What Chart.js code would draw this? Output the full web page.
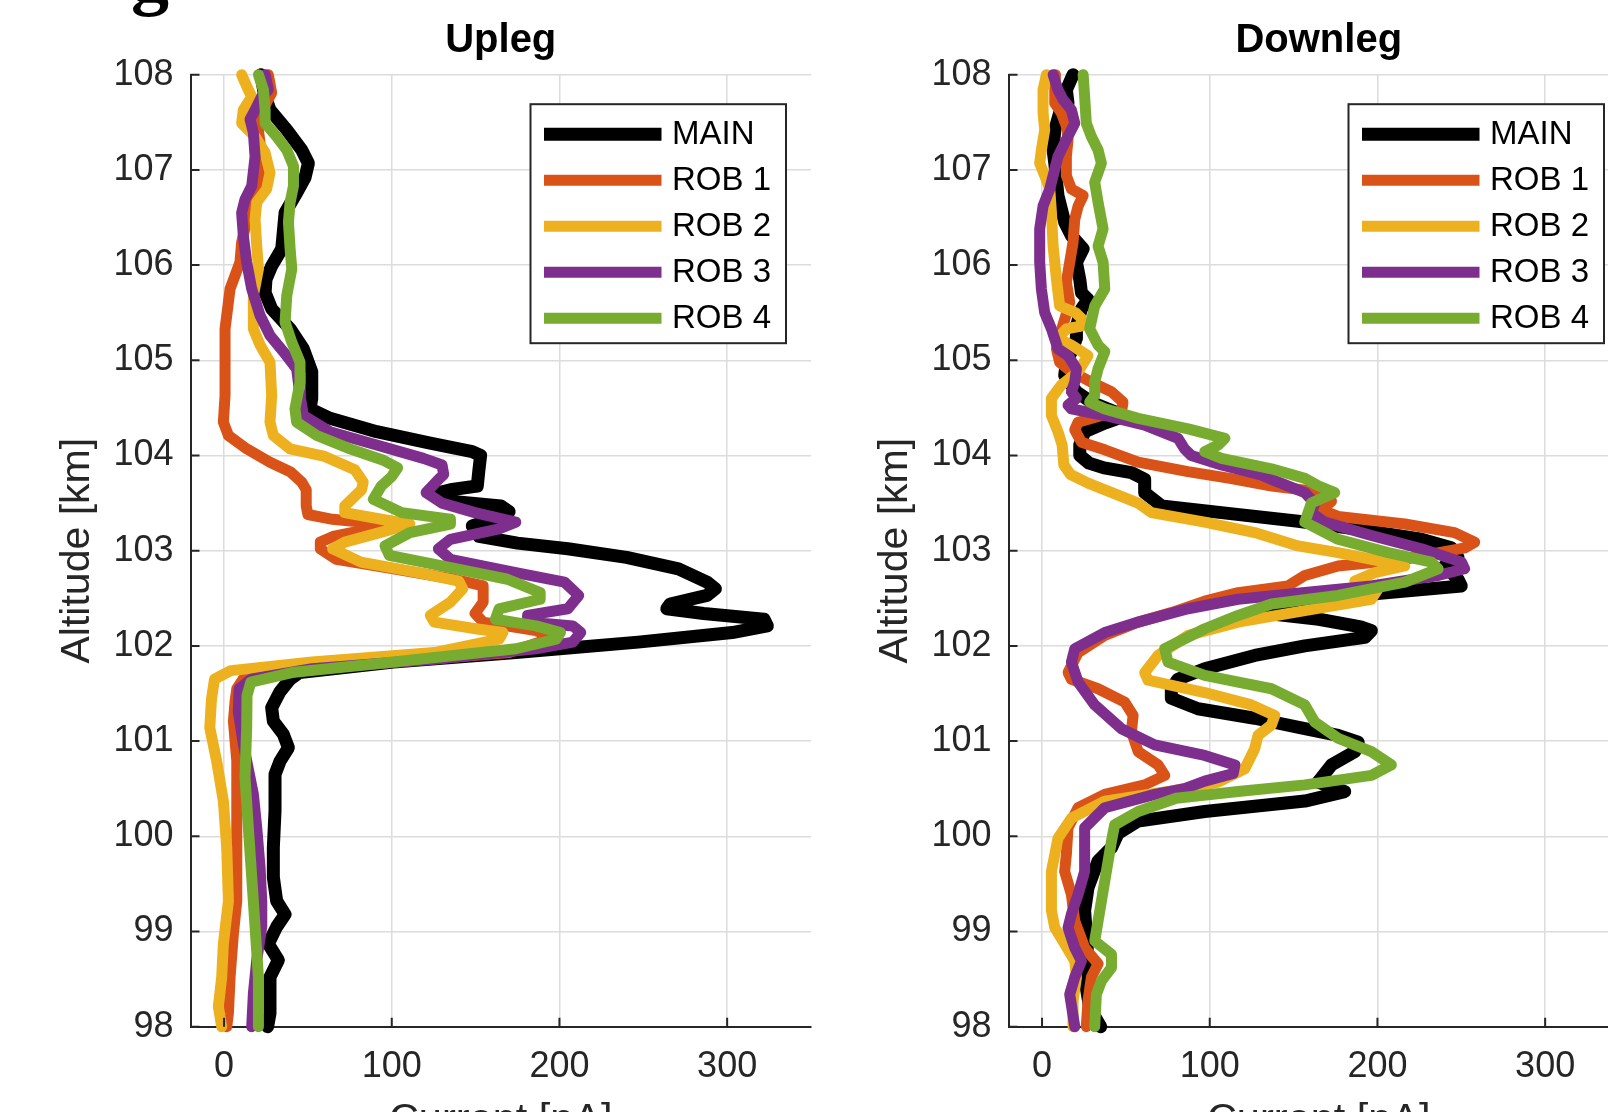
<!DOCTYPE html>
<html>
<head>
<meta charset="utf-8">
<script src="https://cdn.jsdelivr.net/npm/chart.js@4.4.1/dist/chart.umd.min.js"></script>
<style>
  html, body { margin: 0; padding: 0; background: #fff; }
  body { position: relative; width: 1608px; height: 1112px; overflow: hidden; }
  .panel { position: absolute; top: 0; }
  #up { left: 0; }
  #down { left: 818px; }
  #tag {
    position: absolute; left: 131px; top: -61px;
    font: bold 76px "Liberation Serif", serif; line-height: 72px; color: #000;
  }
</style>
</head>
<body>
<div id="tag">g</div>
<canvas id="up" class="panel" width="830" height="1150"></canvas>
<canvas id="down" class="panel" width="830" height="1150"></canvas>
<script>
// series names + axis ticks
const seriesNames = ['MAIN', 'ROB 1', 'ROB 2', 'ROB 3', 'ROB 4'];
const altTicks = [98, 99, 100, 101, 102, 103, 104, 105, 106, 107, 108];
const currentTicks = [0, 100, 200, 300];

// profiles: [altitude km, current nA]
// --- Upleg ---
const upMain = [[108.0, 22], [107.8, 24], [107.63, 27.4], [107.42, 37.4], [107.21, 46.3], [107.07, 50.3], [106.92, 48.3], [106.76, 43.3], [106.55, 36.4], [106.17, 34.4], [105.99, 28.4], [105.85, 25], [105.71, 24.5], [105.54, 28.4], [105.33, 39.4], [105.12, 47.3], [104.88, 52.3], [104.6, 52.3], [104.49, 51.3], [104.39, 63.2], [104.25, 91], [104.13, 122.9], [104.04, 148], [104.0, 153], [103.85, 152], [103.68, 151], [103.64, 135], [103.6, 126], [103.52, 135], [103.47, 165], [103.41, 170], [103.33, 160], [103.26, 148], [103.15, 152], [103.08, 175], [103.02, 205], [102.93, 240], [102.81, 271], [102.67, 288], [102.6, 293], [102.53, 288], [102.44, 266], [102.39, 264], [102.34, 286], [102.28, 322], [102.21, 324], [102.14, 303], [102.04, 247], [101.93, 174], [101.83, 101], [101.72, 45], [101.65, 39.4], [101.52, 33.4], [101.35, 28.4], [101.21, 29.4], [101.07, 35.4], [100.93, 38.4], [100.79, 33.4], [100.65, 30.4], [100.27, 30.4], [99.88, 29.4], [99.57, 29.4], [99.32, 31.4], [99.18, 36.4], [99.05, 31.4], [98.87, 26.4], [98.7, 32.4], [98.52, 27.4], [98.35, 27.4], [98.14, 27.4], [98.0, 26]];
const upRob1 = [[108.0, 26.4], [107.81, 28.4], [107.6, 22], [107.42, 20.5], [107.2, 22], [106.97, 22.5], [106.73, 19.5], [106.5, 14], [106.24, 10.5], [106.03, 9.5], [105.75, 3.6], [105.33, 0.6], [104.98, 0.6], [104.63, 0.6], [104.35, -0.4], [104.21, 2.6], [104.07, 13.5], [103.93, 27.4], [103.83, 39.4], [103.72, 46.3], [103.64, 49], [103.47, 49], [103.38, 50], [103.33, 64.7], [103.28, 94], [103.22, 85], [103.15, 65], [103.09, 57.4], [103.02, 57.4], [102.91, 67], [102.81, 101], [102.7, 137.5], [102.63, 154.5], [102.46, 154.5], [102.34, 149.7], [102.25, 154.5], [102.16, 186], [102.11, 195], [102.04, 188], [101.93, 170], [101.83, 101], [101.72, 28], [101.65, 11.3], [101.55, 7.6], [101.42, 6.6], [101.21, 5.6], [100.79, 7.6], [100.27, 7.6], [99.74, 7.6], [99.32, 7.6], [98.98, 5.6], [98.52, 3.6], [98.14, 2.6], [98.0, 1.6]];
const upRob2 = [[108.0, 10.5], [107.84, 14.5], [107.77, 16.5], [107.63, 11.5], [107.49, 10.5], [107.35, 18.5], [107.18, 24.5], [106.97, 27.4], [106.8, 25.4], [106.66, 19.5], [106.48, 18.5], [106.2, 19.5], [105.96, 20.5], [105.68, 17.5], [105.33, 17.5], [105.16, 21.5], [104.98, 27.4], [104.63, 28.4], [104.35, 27.4], [104.21, 29.4], [104.07, 39.4], [103.99, 60], [103.85, 78], [103.72, 83], [103.64, 82], [103.47, 72], [103.4, 72], [103.33, 93.8], [103.28, 110.8], [103.2, 95], [103.09, 72], [103.02, 64.7], [102.88, 81.7], [102.77, 115.7], [102.68, 140], [102.6, 142.3], [102.46, 135], [102.32, 123], [102.25, 125.4], [102.18, 150], [102.14, 166.3], [102.07, 164], [101.93, 125.4], [101.83, 52.5], [101.74, 4], [101.65, -5.7], [101.44, -7.5], [101.14, -8.5], [100.79, -4.4], [100.37, -0.4], [99.88, 1.6], [99.32, 2.6], [98.87, -0.4], [98.52, -1.4], [98.21, -3.4], [98.0, -1.4]];
const upRob3 = [[108.0, 24.5], [107.84, 26.4], [107.77, 22.5], [107.63, 18.5], [107.53, 15.5], [107.39, 17.5], [107.14, 18.5], [106.83, 16.5], [106.69, 12.5], [106.55, 10.5], [106.31, 11.5], [106.03, 13.5], [105.75, 16.5], [105.47, 21.5], [105.26, 27.4], [105.09, 35.4], [104.91, 43.3], [104.63, 45.3], [104.42, 47.3], [104.25, 63.2], [104.11, 91], [103.97, 118.9], [103.9, 130], [103.8, 131], [103.75, 128], [103.61, 120.5], [103.5, 130], [103.4, 149.6], [103.3, 174], [103.23, 164], [103.12, 135], [103.02, 127.8], [102.91, 135], [102.77, 174], [102.67, 203], [102.53, 211.5], [102.39, 205], [102.32, 181], [102.25, 181], [102.21, 208], [102.14, 212.7], [102.04, 208], [101.97, 186], [101.86, 125.4], [101.76, 52.5], [101.65, 16], [101.55, 9], [101.31, 8.5], [100.97, 11.5], [100.44, 17.5], [100.09, 19.5], [99.67, 21.5], [99.32, 22.5], [99.05, 22.5], [98.7, 19.5], [98.35, 17.5], [98.0, 16.5]];
const upRob4 = [[108.0, 20.5], [107.84, 23.5], [107.63, 24.5], [107.49, 24.5], [107.35, 31.4], [107.21, 37.4], [107.04, 41.4], [106.83, 41.4], [106.66, 39.4], [106.45, 38.4], [106.17, 39.4], [105.96, 40.4], [105.68, 37.4], [105.4, 36.4], [105.19, 40.4], [104.98, 45.3], [104.77, 45.3], [104.49, 42.3], [104.35, 43.3], [104.21, 55.3], [104.07, 75.1], [103.95, 95], [103.87, 103.5], [103.78, 100], [103.68, 93.8], [103.54, 89], [103.4, 106], [103.33, 135], [103.28, 135], [103.19, 110.8], [103.05, 96], [102.95, 98.6], [102.84, 130], [102.7, 169], [102.56, 188.5], [102.49, 188.5], [102.39, 164], [102.28, 161.8], [102.21, 186], [102.14, 200.6], [102.07, 198], [101.97, 174], [101.83, 101], [101.72, 40.4], [101.62, 16], [101.48, 13.7], [101.14, 13.5], [100.62, 12.5], [100.09, 14.5], [99.57, 16.5], [99.05, 18.5], [98.52, 20.5], [98.0, 20.5]];

// --- Downleg ---
const downMain = [[108.0, 18.5], [107.84, 14.5], [107.7, 15.5], [107.6, 10.5], [107.42, 7.6], [107.21, 6.6], [107.07, 7.6], [106.73, 9.5], [106.45, 13.5], [106.31, 17.5], [106.17, 24.5], [106.03, 20.5], [105.85, 22.5], [105.71, 23.5], [105.64, 27.4], [105.54, 23.5], [105.36, 20.5], [105.23, 20.5], [105.09, 17.5], [104.98, 14.5], [104.84, 13.5], [104.74, 17.5], [104.67, 20.5], [104.56, 29.4], [104.46, 43.3], [104.39, 45.3], [104.34, 37.4], [104.25, 25.4], [104.11, 22.5], [104.0, 22.5], [103.92, 28], [103.87, 37], [103.82, 53.3], [103.75, 61.2], [103.61, 61.2], [103.47, 71.2], [103.4, 107], [103.31, 152.7], [103.23, 186.5], [103.12, 226.2], [103.03, 244], [102.93, 248], [102.84, 240], [102.7, 248], [102.63, 250], [102.55, 200], [102.45, 160], [102.37, 136], [102.33, 140], [102.28, 165], [102.2, 190], [102.16, 196.4], [102.09, 192.5], [102.0, 156.7], [101.9, 126.8], [101.76, 97], [101.65, 81], [101.55, 77.1], [101.45, 77.1], [101.34, 93], [101.24, 126.8], [101.13, 156.7], [101.06, 176.5], [100.99, 188.5], [100.89, 186.5], [100.75, 172.6], [100.57, 164.6], [100.47, 180.5], [100.37, 156.7], [100.26, 97], [100.16, 57.3], [100.03, 45.3], [99.88, 41.4], [99.74, 33.4], [99.46, 27.4], [99.22, 25.4], [98.97, 26.4], [98.69, 27.4], [98.41, 26.4], [98.2, 28.4], [98.0, 35]];
const downRob1 = [[108.0, 8], [107.84, 7.6], [107.7, 7.6], [107.6, 11.5], [107.46, 14.5], [107.32, 15.5], [107.14, 14.5], [106.94, 14.5], [106.8, 17.5], [106.73, 24.5], [106.62, 21.5], [106.48, 19.5], [106.24, 18.5], [106.03, 16.5], [105.82, 14.5], [105.61, 16.5], [105.43, 13.5], [105.26, 10.5], [105.12, 8.6], [104.98, 10.5], [104.88, 17.5], [104.77, 29.4], [104.67, 41.4], [104.56, 48.3], [104.46, 47.3], [104.41, 33.4], [104.35, 21.5], [104.27, 19.5], [104.14, 23.5], [104.06, 37.4], [103.93, 57.3], [103.83, 87], [103.76, 112], [103.68, 137], [103.61, 168.6], [103.52, 172.6], [103.43, 166.6], [103.36, 176.5], [103.28, 216.3], [103.19, 246], [103.09, 258], [103.03, 252], [102.91, 216.3], [102.84, 176.5], [102.74, 156.7], [102.63, 146.7], [102.56, 117], [102.47, 97], [102.35, 77.1], [102.25, 57.3], [102.11, 37.4], [101.93, 21.5], [101.72, 15.5], [101.65, 17.5], [101.55, 33.4], [101.41, 49.3], [101.27, 54.3], [101.1, 53.3], [100.89, 57.3], [100.75, 69.2], [100.64, 73.2], [100.54, 61.2], [100.44, 37.4], [100.3, 21.5], [100.09, 15.5], [99.81, 14.5], [99.63, 13.5], [99.39, 17.5], [99.11, 19.5], [98.83, 25.4], [98.66, 33.4], [98.52, 29.4], [98.27, 27.4], [98.0, 26.4]];
const downRob2 = [[108.0, 2.6], [107.84, 0.6], [107.6, 0.6], [107.42, 1.6], [107.21, -0.4], [107.07, -1.4], [106.94, 1.6], [106.8, 4.6], [106.55, 5.6], [106.2, 6.6], [105.85, 8.6], [105.57, 10.5], [105.5, 20], [105.44, 23.5], [105.36, 23.5], [105.33, 14.5], [105.23, 9.5], [105.16, 17.5], [105.05, 27.4], [104.88, 21.5], [104.74, 11.5], [104.6, 5.6], [104.42, 5.6], [104.25, 9.5], [104.11, 12], [103.9, 13], [103.8, 17], [103.71, 27.4], [103.5, 57.3], [103.4, 65.2], [103.3, 97], [103.19, 126.8], [103.05, 152.7], [102.98, 176.5], [102.91, 196.4], [102.84, 216.3], [102.77, 198.4], [102.68, 186.5], [102.6, 200.4], [102.49, 196.4], [102.37, 156.7], [102.25, 116.9], [102.11, 87.1], [101.9, 69.2], [101.72, 61.2], [101.64, 63.2], [101.51, 97], [101.38, 124.9], [101.27, 138.8], [101.17, 136.8], [101.06, 128.8], [100.92, 126.8], [100.71, 120.9], [100.57, 105], [100.47, 75], [100.37, 37.4], [100.19, 17.5], [99.98, 9.5], [99.63, 5.6], [99.22, 5.6], [99.04, 7.6], [98.87, 13.5], [98.69, 19.5], [98.52, 20.5], [98.27, 18.5], [98.0, 18.5]];
const downRob3 = [[108.0, 6.6], [107.84, 9.5], [107.74, 12.5], [107.63, 17.5], [107.49, 19.5], [107.32, 14.5], [107.14, 9.5], [106.8, 4.6], [106.62, 0.6], [106.38, -1.4], [106.03, -1.4], [105.75, -0.4], [105.5, 1.6], [105.33, 5.6], [105.12, 9.5], [105.05, 15.5], [104.91, 20.5], [104.77, 19.5], [104.67, 17.5], [104.6, 20.5], [104.53, 15.5], [104.49, 17.5], [104.42, 37.4], [104.32, 61.2], [104.18, 81.1], [104.07, 85], [104.0, 89], [103.9, 107], [103.8, 130], [103.75, 136.8], [103.61, 156.7], [103.5, 162.6], [103.4, 160.6], [103.3, 168.6], [103.16, 196.4], [103.02, 226.2], [102.88, 250.1], [102.81, 252], [102.74, 236.2], [102.63, 196.4], [102.56, 156.7], [102.49, 116.9], [102.39, 87.1], [102.25, 57.3], [102.14, 37.4], [101.97, 19.5], [101.83, 17.5], [101.62, 21.5], [101.38, 31.4], [101.13, 47.3], [100.96, 67.2], [100.85, 97], [100.75, 115], [100.66, 114], [100.58, 97], [100.5, 85], [100.44, 67.2], [100.3, 37.4], [100.09, 25.4], [99.81, 25.4], [99.63, 25.4], [99.39, 21.5], [99.18, 17.5], [99.04, 15.5], [98.83, 19.5], [98.69, 23.5], [98.52, 19.5], [98.34, 16.5], [98.0, 19.5]];
const downRob4 = [[108.0, 24.5], [107.77, 25.4], [107.49, 26.4], [107.35, 29.4], [107.21, 33.4], [107.07, 35.4], [106.87, 31.4], [106.66, 33.4], [106.38, 36.4], [106.2, 33.4], [106.03, 36.4], [105.75, 37.4], [105.57, 31.4], [105.33, 28.4], [105.16, 33.4], [105.09, 37.4], [104.91, 33.4], [104.77, 31.4], [104.63, 31.4], [104.56, 28.4], [104.49, 37.4], [104.39, 57.3], [104.28, 87.1], [104.18, 109], [104.11, 105], [104.04, 97], [103.97, 107], [103.86, 136.8], [103.76, 156.7], [103.68, 165], [103.61, 174.5], [103.5, 160.6], [103.3, 156.7], [103.12, 176.5], [102.98, 206.4], [102.88, 232.2], [102.81, 236.2], [102.67, 216.3], [102.53, 176.5], [102.44, 136.8], [102.32, 116.9], [102.18, 97], [101.97, 73.2], [101.83, 75.1], [101.69, 97], [101.55, 136.8], [101.38, 156.7], [101.2, 162.6], [101.03, 176.5], [100.89, 196.4], [100.75, 208.3], [100.64, 196.4], [100.54, 156.7], [100.47, 116.9], [100.4, 80], [100.26, 57.3], [100.12, 43.3], [99.95, 41.4], [99.74, 39.4], [99.53, 37.4], [99.32, 35.4], [99.11, 33.4], [98.9, 31.4], [98.76, 41.4], [98.62, 41.4], [98.48, 35.4], [98.34, 32.4], [98.0, 31.4]];

// styling (matlab default colour order)
const lineColors = ['#000000', '#D95319', '#EDB120', '#7E2F8E', '#77AC30'];
const lineWidths = [13, 11, 11, 11, 11];
const AXIS = '#262626';
const GRID = '#dcdcdc';
const CANVAS_H = 1150;
const AREA_LEFT = 190.5;
const AREA_BOTTOM = 1026.7;

Chart.defaults.font.family = '"Liberation Sans", Arial, sans-serif';

// inward tick marks + boxed legend top-right, like the matlab axes
const matlabAxes = {
  id: 'matlabAxes',
  afterDraw(chart) {
    const { ctx, chartArea: a, scales: { x, y } } = chart;
    ctx.save();
    ctx.strokeStyle = AXIS;
    ctx.lineWidth = 2;
    ctx.beginPath();
    y.ticks.forEach(t => {
      const p = y.getPixelForValue(t.value);
      ctx.moveTo(a.left, p); ctx.lineTo(a.left + 9, p);
    });
    x.ticks.forEach(t => {
      const p = x.getPixelForValue(t.value);
      ctx.moveTo(p, a.bottom); ctx.lineTo(p, a.bottom - 9);
    });
    ctx.stroke();

    const bw = 255.5, bh = 239;
    const bx = a.right - 25 - bw, by = a.top + 29.5;
    ctx.fillStyle = '#fff';
    ctx.fillRect(bx, by, bw, bh);
    ctx.lineWidth = 2;
    ctx.strokeRect(bx, by, bw, bh);
    ctx.font = '33px "Liberation Sans", Arial, sans-serif';
    ctx.textBaseline = 'middle';
    ctx.lineCap = 'butt';
    chart.data.datasets.forEach((ds, i) => {
      const cy = by + 30 + i * 46;
      ctx.strokeStyle = ds.borderColor;
      ctx.lineWidth = ds.borderWidth;
      ctx.beginPath();
      ctx.moveTo(bx + 13.5, cy);
      ctx.lineTo(bx + 131, cy);
      ctx.stroke();
      ctx.fillStyle = '#000';
      ctx.fillText(ds.label, bx + 141.5, cy + 1);
    });
    ctx.restore();
  }
};

function makePanel(id, title, profiles) {
  const datasets = profiles.map((prof, i) => ({
    label: seriesNames[i],
    data: prof.map(([alt, cur]) => ({ x: cur, y: alt })),
    borderColor: lineColors[i],
    borderWidth: lineWidths[i],
    showLine: true,
    pointRadius: 0,
    tension: 0,
    borderJoinStyle: 'round',
    borderCapStyle: 'round',
    clip: false,
    order: profiles.length - i // last series on top
  }));

  return new Chart(document.getElementById(id), {
    type: 'scatter',
    data: { datasets },
    options: {
      responsive: false,
      animation: false,
      events: [],
      layout: { padding: { left: 0, right: 19, top: 0, bottom: 0 } },
      plugins: {
        legend: { display: false },
        tooltip: { enabled: false },
        title: {
          display: true,
          text: title,
          fullSize: false,
          color: '#000',
          font: { size: 40, weight: 'bold' },
          padding: { top: 16.5, bottom: 10.2 }
        }
      },
      scales: {
        x: {
          type: 'linear',
          min: -20,
          max: 350,
          bounds: 'data',
          afterBuildTicks: s => { s.ticks = currentTicks.map(v => ({ value: v })); },
          afterFit: s => { s.height = CANVAS_H - AREA_BOTTOM; },
          grid: { color: GRID, lineWidth: 1.5, drawTicks: false },
          border: { color: AXIS, width: 2 },
          ticks: { color: AXIS, font: { size: 36 }, padding: 19.2, maxRotation: 0 },
          title: {
            display: true,
            text: 'Current [nA]',
            color: AXIS,
            font: { size: 41.5 },
            padding: { top: 0, bottom: 5 }
          }
        },
        y: {
          type: 'linear',
          min: 98,
          max: 108,
          bounds: 'data',
          afterBuildTicks: s => { s.ticks = altTicks.map(v => ({ value: v })); },
          afterFit: s => { s.width = AREA_LEFT; },
          grid: { color: GRID, lineWidth: 1.5, drawTicks: false },
          border: { color: AXIS, width: 2 },
          ticks: { color: AXIS, font: { size: 36 }, padding: 17 },
          title: {
            display: true,
            text: 'Altitude [km]',
            color: AXIS,
            font: { size: 41 },
            padding: { top: 52.8, bottom: 0 }
          }
        }
      }
    },
    plugins: [matlabAxes]
  });
}

makePanel('up', 'Upleg', [upMain, upRob1, upRob2, upRob3, upRob4]);
makePanel('down', 'Downleg', [downMain, downRob1, downRob2, downRob3, downRob4]);
</script>
</body>
</html>
